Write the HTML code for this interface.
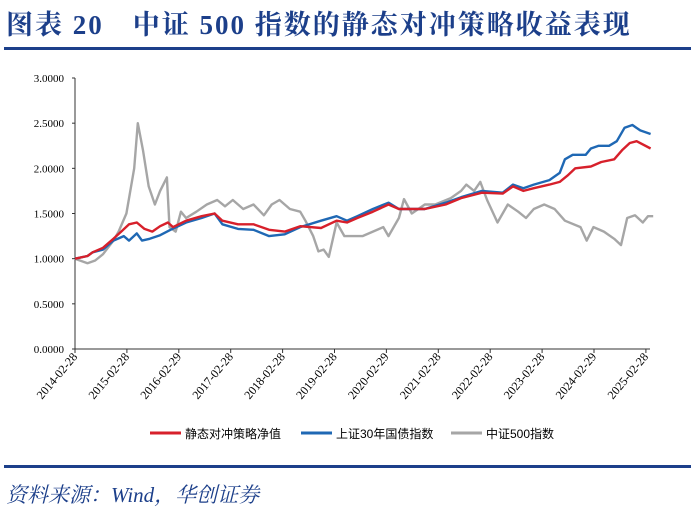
<!DOCTYPE html>
<html><head><meta charset="utf-8"><style>
body{margin:0;width:691px;height:510px;background:#fff;overflow:hidden;position:relative;font-family:"Liberation Serif","Noto Serif CJK SC",serif}
.t{position:absolute;left:6px;top:3px;font-size:27px;font-weight:bold;color:#1c3f8a;letter-spacing:2px;white-space:nowrap}
.src{position:absolute;left:6px;top:479px;font-size:21px;font-style:italic;color:#1c3f8a;white-space:nowrap}
.hl{position:absolute;left:4px;width:687px;height:3px;background:#1c3f8a}
</style></head><body>
<div class="t">图表 20　中证 500 指数的静态对冲策略收益表现</div>
<div class="hl" style="top:47px"></div>
<div class="hl" style="top:465px"></div>
<div class="src">资料来源：Wind，华创证券</div>
<svg id="s" width="691" height="510" style="position:absolute;left:0;top:0"></svg>
<script>
const s=document.getElementById('s');let h='';
const X=t=>75+(t-2014.16)*51.9, Y=v=>349-v*90.33;
h+=`<line x1="75" y1="78" x2="75" y2="349" stroke="#333" stroke-width="1"/><line x1="75" y1="349" x2="650" y2="349" stroke="#333"/>`;
for(let i=0;i<=6;i++){let v=i*0.5,y=Y(v);h+=`<line x1="72" y1="${y}" x2="75" y2="${y}" stroke="#333"/><text x="64" y="${y+4}" font-size="11" text-anchor="end" font-family="Liberation Serif">${v.toFixed(4)}</text>`;}
const lb=['2014-02-28','2015-02-28','2016-02-29','2017-02-28','2018-02-28','2019-02-28','2020-02-29','2021-02-28','2022-02-28','2023-02-28','2024-02-29','2025-02-28'];
lb.forEach((l,i)=>{let x=75+i*51.9;h+=`<line x1="${x}" y1="349" x2="${x}" y2="353" stroke="#333"/><text transform="translate(${x+3},357) rotate(-50)" font-size="12" text-anchor="end" font-family="Liberation Serif">${l}</text>`});
const g=[[2014.16,1],[2014.4,.95],[2014.55,.98],[2014.7,1.05],[2014.9,1.2],[2015.0,1.3],[2015.15,1.5],[2015.3,2.0],[2015.37,2.5],[2015.47,2.2],[2015.58,1.8],[2015.7,1.6],[2015.8,1.75],[2015.93,1.9],[2015.98,1.35],[2016.1,1.3],[2016.2,1.52],[2016.3,1.45],[2016.5,1.52],[2016.7,1.6],[2016.9,1.65],[2017.05,1.58],[2017.2,1.65],[2017.4,1.55],[2017.6,1.6],[2017.8,1.48],[2017.95,1.6],[2018.1,1.65],[2018.3,1.55],[2018.5,1.52],[2018.6,1.42],[2018.75,1.25],[2018.85,1.08],[2018.95,1.1],[2019.05,1.02],[2019.2,1.4],[2019.35,1.25],[2019.7,1.25],[2019.9,1.3],[2020.1,1.35],[2020.2,1.25],[2020.4,1.45],[2020.5,1.66],[2020.65,1.5],[2020.9,1.6],[2021.1,1.6],[2021.4,1.67],[2021.6,1.75],[2021.7,1.82],[2021.85,1.75],[2021.97,1.85],[2022.1,1.65],[2022.3,1.4],[2022.5,1.6],[2022.7,1.52],[2022.85,1.45],[2023.0,1.55],[2023.2,1.6],[2023.4,1.55],[2023.6,1.42],[2023.9,1.35],[2024.02,1.2],[2024.15,1.35],[2024.35,1.3],[2024.55,1.22],[2024.68,1.15],[2024.8,1.45],[2024.95,1.48],[2025.1,1.4],[2025.2,1.47],[2025.3,1.47]];
const b=[[2014.16,1],[2014.4,1.03],[2014.5,1.07],[2014.7,1.1],[2014.9,1.2],[2015.1,1.25],[2015.2,1.2],[2015.35,1.28],[2015.45,1.2],[2015.6,1.22],[2015.8,1.26],[2016.0,1.32],[2016.3,1.4],[2016.6,1.45],[2016.85,1.5],[2017.0,1.38],[2017.3,1.33],[2017.6,1.32],[2017.9,1.25],[2018.2,1.27],[2018.5,1.35],[2018.9,1.42],[2019.2,1.47],[2019.4,1.42],[2019.6,1.47],[2019.9,1.55],[2020.2,1.62],[2020.4,1.55],[2020.9,1.55],[2021.3,1.62],[2021.6,1.68],[2022.0,1.75],[2022.4,1.73],[2022.6,1.82],[2022.8,1.78],[2023.0,1.82],[2023.3,1.87],[2023.5,1.95],[2023.6,2.1],[2023.75,2.15],[2024.0,2.15],[2024.1,2.22],[2024.25,2.25],[2024.45,2.25],[2024.6,2.3],[2024.75,2.45],[2024.9,2.48],[2025.05,2.42],[2025.25,2.38]];
const r=[[2014.16,1],[2014.4,1.03],[2014.5,1.07],[2014.7,1.12],[2014.9,1.22],[2015.05,1.3],[2015.2,1.38],[2015.35,1.4],[2015.5,1.33],[2015.65,1.3],[2015.8,1.36],[2015.95,1.4],[2016.05,1.35],[2016.3,1.42],[2016.6,1.47],[2016.85,1.5],[2017.0,1.42],[2017.3,1.38],[2017.6,1.38],[2017.9,1.32],[2018.2,1.3],[2018.5,1.36],[2018.9,1.34],[2019.2,1.42],[2019.4,1.4],[2019.6,1.45],[2019.9,1.52],[2020.2,1.6],[2020.4,1.55],[2020.9,1.55],[2021.3,1.6],[2021.6,1.67],[2022.0,1.73],[2022.4,1.72],[2022.6,1.8],[2022.8,1.75],[2023.0,1.78],[2023.3,1.82],[2023.5,1.85],[2023.65,1.92],[2023.8,2.0],[2024.1,2.02],[2024.3,2.07],[2024.55,2.1],[2024.7,2.2],[2024.85,2.28],[2024.98,2.3],[2025.25,2.22]];
const pl=(d,c)=>`<polyline fill="none" stroke="${c}" stroke-width="2.4" stroke-linejoin="round" points="${d.map(p=>X(p[0]).toFixed(1)+','+Y(p[1]).toFixed(1)).join(' ')}"/>`;
h+=pl(g,'#a6a6a6')+pl(b,'#1f68b4')+pl(r,'#d7202b');
const lg=[[150,'#d7202b','静态对冲策略净值'],[301,'#1f68b4','上证30年国债指数'],[451,'#a6a6a6','中证500指数']];
lg.forEach(([x,c,t])=>{h+=`<line x1="${x}" y1="433" x2="${x+31}" y2="433" stroke="${c}" stroke-width="3"/><text x="${x+35}" y="438" font-size="12" font-family="Liberation Sans,Noto Sans CJK SC,sans-serif">${t}</text>`});
s.innerHTML=h;
</script>
</body></html>
